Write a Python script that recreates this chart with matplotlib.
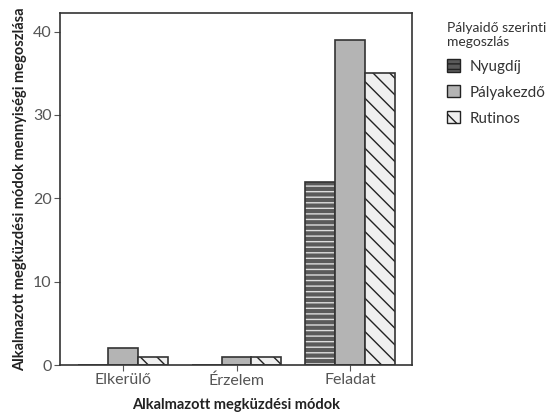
import numpy as np
import matplotlib.pyplot as plt
from matplotlib.patches import Patch

plt.rcParams["font.family"] = ["Lato", "DejaVu Sans"]

categories = ["Elkerülő", "Érzelem", "Feladat"]
series_names = ["Nyugdíj", "Pályakezdő", "Rutinos"]
nyugdij = [0, 0, 22]
palyakezdo = [2, 1, 39]
rutinos = [1, 1, 35]

fills = ["#5a5a5a", "#b4b4b4", "#efefef"]
hatches = ["---", None, "\\\\"]
hatch_colors = ["#dddddd", None, "#222222"]

fig = plt.figure(figsize=(5.5, 4.12), dpi=100)
ax = fig.add_axes([0.109, 0.114, 0.64, 0.854])

x = np.arange(len(categories))
width = 0.263
for i, vals in enumerate([nyugdij, palyakezdo, rutinos]):
    pos = x + (i - 1) * width
    ax.bar(pos, vals, width, color=fills[i], edgecolor="none", linewidth=0)
    if hatches[i]:
        ax.bar(pos, vals, width, fill=False, hatch=hatches[i],
               edgecolor=hatch_colors[i], linewidth=0)
    ax.bar(pos, vals, width, fill=False, edgecolor="#333333", linewidth=1.2)

ax.set_xlim(-0.55, 2.54)
ax.set_ylim(0, 42.2)
ax.set_yticks([0, 10, 20, 30, 40])
ax.set_xticks(x)
ax.set_xticklabels(categories)
ax.tick_params(colors="#555555", labelsize=11.5, length=4, pad=2)
for s in ax.spines.values():
    s.set_color("#333333")
    s.set_linewidth(1.2)

ax.set_xlabel("Alkalmazott megküzdési módok", fontsize=10.5, fontweight="bold",
              color="#222222", labelpad=7)
ax.set_ylabel("Alkalmazott megküzdési módok mennyiségi megoszlása", fontsize=10.5,
              fontweight="bold", color="#222222", labelpad=4)

handles = [
    Patch(facecolor=fills[0], edgecolor="#222222", hatch="---"),
    Patch(facecolor=fills[1], edgecolor="#222222"),
    Patch(facecolor=fills[2], edgecolor="#222222", hatch="\\"),
]
leg = ax.legend(handles, series_names, title="Pályaidő szerinti\nmegoszlás",
                loc="upper left", bbox_to_anchor=(1.10, 0.975), frameon=False,
                fontsize=11, title_fontsize=10, handlelength=0.85,
                handleheight=0.85, labelspacing=0.75, handletextpad=0.6,
                borderaxespad=0, borderpad=0)
leg._legend_box.align = "left"
for t in leg.get_texts():
    t.set_color("#333333")
leg.get_title().set_color("#333333")

fig.savefig("out.png", dpi=100)
